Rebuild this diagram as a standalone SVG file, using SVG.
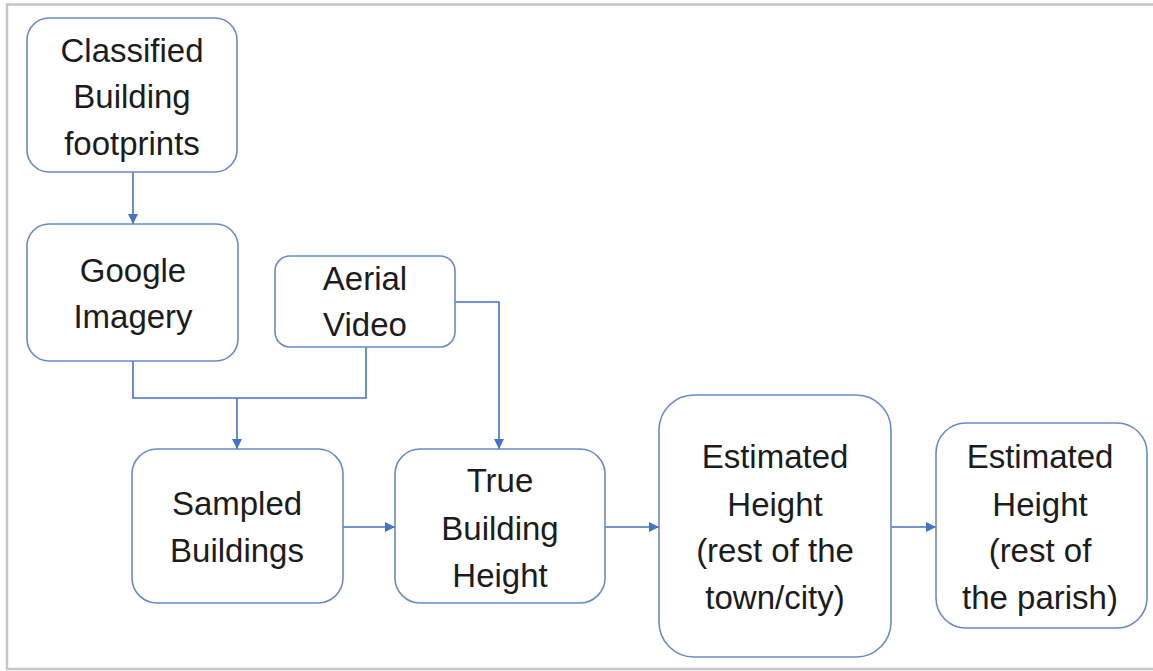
<svg xmlns="http://www.w3.org/2000/svg" width="1153" height="671" viewBox="0 0 1153 671">
<defs>
<marker id="arr" viewBox="0 0 10 10" refX="10" refY="5" markerWidth="10" markerHeight="10" markerUnits="userSpaceOnUse" orient="auto">
<path d="M0,0 L10,5 L0,10 z" fill="#4472c4"/>
</marker>
<style>
.box{fill:#ffffff;stroke:#6a8bc6;stroke-width:1.6}
.lbl{font-family:"Liberation Sans",Arial,sans-serif;font-size:33px;fill:#1c1c1c;text-anchor:middle}
.con{fill:none;stroke:#4472c4;stroke-width:1.6}
</style>
</defs>
<rect x="0" y="0" width="1153" height="671" fill="#ffffff"/>
<rect x="7" y="4.5" width="1152" height="664.5" fill="none" stroke="#c6c6c6" stroke-width="2.5"/>
<g id="connectors">
<path class="con" d="M133,172 V224" marker-end="url(#arr)"/>
<path class="con" d="M133,361 V398 H366 V347"/>
<path class="con" d="M237,398 V449" marker-end="url(#arr)"/>
<path class="con" d="M455,302 H499 V449" marker-end="url(#arr)"/>
<path class="con" d="M343,527 H395" marker-end="url(#arr)"/>
<path class="con" d="M605,527 H659" marker-end="url(#arr)"/>
<path class="con" d="M891,527 H936" marker-end="url(#arr)"/>
</g>
<g id="classified">
<rect class="box" x="27" y="18" width="210" height="154" rx="22"/>
<text class="lbl" x="132" y="62">Classified</text>
<text class="lbl" x="132" y="108">Building</text>
<text class="lbl" x="132" y="155">footprints</text>
</g>
<g id="google">
<rect class="box" x="27" y="224" width="211" height="137" rx="22"/>
<text class="lbl" x="133" y="282">Google</text>
<text class="lbl" x="133" y="328">Imagery</text>
</g>
<g id="aerial">
<rect class="box" x="275" y="256" width="180" height="91" rx="15"/>
<text class="lbl" x="365" y="290">Aerial</text>
<text class="lbl" x="365" y="336">Video</text>
</g>
<g id="sampled">
<rect class="box" x="132" y="449" width="211" height="154" rx="25"/>
<text class="lbl" x="237" y="515">Sampled</text>
<text class="lbl" x="237" y="562">Buildings</text>
</g>
<g id="true">
<rect class="box" x="395" y="449" width="210" height="154" rx="25"/>
<text class="lbl" x="500" y="492">True</text>
<text class="lbl" x="500" y="540">Building</text>
<text class="lbl" x="500" y="587">Height</text>
</g>
<g id="town">
<rect class="box" x="659" y="395" width="232" height="262" rx="35"/>
<text class="lbl" x="775" y="468">Estimated</text>
<text class="lbl" x="775" y="516">Height</text>
<text class="lbl" x="775" y="562">(rest of the</text>
<text class="lbl" x="775" y="609">town/city)</text>
</g>
<g id="parish">
<rect class="box" x="936" y="423" width="211" height="205" rx="30"/>
<text class="lbl" x="1040" y="468">Estimated</text>
<text class="lbl" x="1040" y="516">Height</text>
<text class="lbl" x="1040" y="562">(rest of</text>
<text class="lbl" x="1040" y="609">the parish)</text>
</g>
</svg>
